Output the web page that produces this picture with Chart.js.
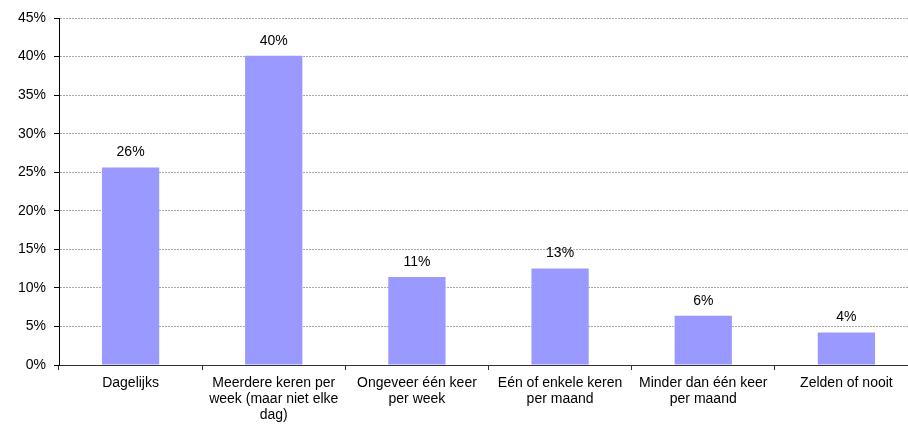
<!DOCTYPE html>
<html>
<head>
<meta charset="utf-8">
<script src="https://cdn.jsdelivr.net/npm/chart.js@4"></script>
<style>
  html, body { margin: 0; padding: 0; background: #fff; overflow: hidden; }
  #wrap { width: 918px; height: 425px; }
</style>
</head>
<body>
<div id="wrap"><canvas id="grafico"></canvas></div>
<script>
// datos
const categorias = [
  'Dagelijks',
  ['Meerdere keren per', 'week (maar niet elke', 'dag)'],
  ['Ongeveer één keer', 'per week'],
  ['Eén of enkele keren', 'per maand'],
  ['Minder dan één keer', 'per maand'],
  'Zelden of nooit'
];
const porcentajes = [25.6, 40.1, 11.4, 12.5, 6.4, 4.2];
const etiquetasY = ['0%', '5%', '10%', '15%', '20%', '25%', '30%', '35%', '40%', '45%'];

const fuente = { family: 'Liberation Sans, Arial, sans-serif', size: 14, lineHeight: 1.15 };

// etiquetas encima de las barras
const etiquetasBarras = {
  id: 'etiquetasBarras',
  afterDatasetsDraw(chart) {
    const ctx = chart.ctx;
    const meta = chart.getDatasetMeta(0);
    ctx.save();
    ctx.font = '14px "Liberation Sans", Arial, sans-serif';
    ctx.fillStyle = '#000';
    ctx.textAlign = 'center';
    ctx.textBaseline = 'bottom';
    meta.data.forEach((bar, i) => {
      ctx.fillText(Math.round(porcentajes[i]) + '%', bar.x, bar.y - 8);
    });
    ctx.restore();
  }
};

new Chart(document.getElementById('grafico').getContext('2d'), {
  type: 'bar',
  data: {
    labels: categorias,
    datasets: [{
      data: porcentajes,
      backgroundColor: '#9999ff',
      barPercentage: 0.4,
      categoryPercentage: 1
    }]
  },
  options: {
    responsive: true,
    maintainAspectRatio: false,
    devicePixelRatio: 1,
    animation: false,
    layout: { padding: { top: 18, right: 0, left: 0, bottom: 0 } },
    plugins: {
      legend: { display: false },
      tooltip: { enabled: false }
    },
    scales: {
      x: {
        offset: true,
        grid: {
          offset: true,
          drawOnChartArea: false,
          drawTicks: true,
          tickLength: 5,
          tickColor: '#333'
        },
        border: { display: true, color: '#333' },
        ticks: {
          color: '#000',
          font: fuente,
          padding: 5,
          maxRotation: 0,
          autoSkip: false
        },
        afterFit(scale) { scale.height = 60; }
      },
      y: {
        min: 0,
        max: 45,
        grid: {
          color: '#aaaaaa',
          tickBorderDash: [],
          tickColor: '#000',
          tickLength: 5
        },
        border: { display: true, color: '#000', dash: [2, 1] },
        ticks: {
          stepSize: 5,
          color: '#000',
          font: fuente,
          padding: 8,
          callback: (v, i) => etiquetasY[i]
        },
        afterFit(scale) { scale.width = 59; }
      }
    }
  },
  plugins: [etiquetasBarras]
});
</script>
</body>
</html>
